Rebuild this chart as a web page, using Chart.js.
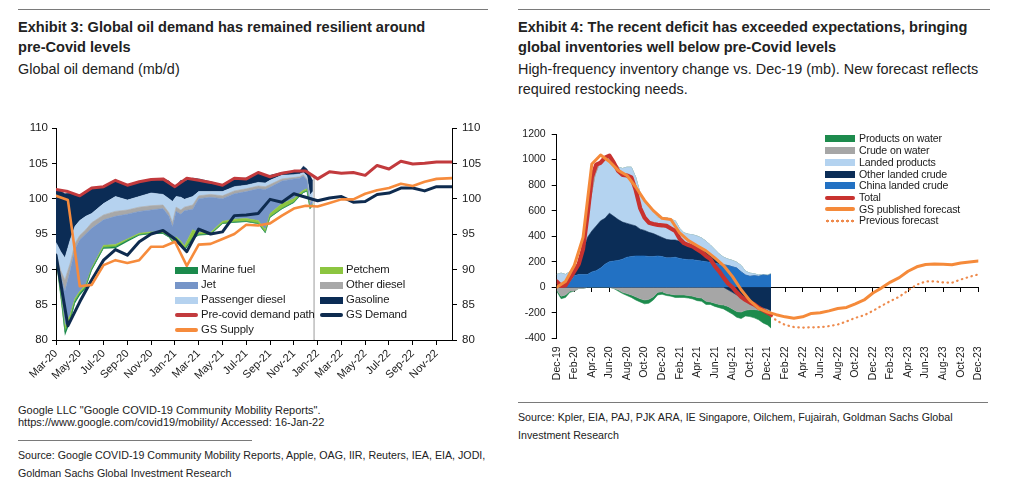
<!DOCTYPE html>
<html>
<head>
<meta charset="utf-8">
<script src="https://cdn.jsdelivr.net/npm/chart.js@4.4.1/dist/chart.umd.min.js"></script>
<style>
  body { margin: 0; width: 1010px; height: 489px; position: relative; background: #fff; overflow: hidden;
         font-family: "Liberation Sans Narrow", "Arial Narrow", "Liberation Sans", Arial, sans-serif; color: #222; }
  .abs { position: absolute; white-space: nowrap; transform-origin: 0 0; }
  .rule { position: absolute; height: 1px; background: #7a7a7a; }
  .title { font-weight: bold; font-size: 15.5px; line-height: 20px; transform: scaleX(0.94); }
  .sub { font-size: 15px; line-height: 20px; transform: scaleX(0.96); }
  .note { font-size: 11px; line-height: 12px; }
  .src { font-size: 11px; line-height: 18px; transform: scaleX(0.97); }
  .lg { position: absolute; font-family: "Liberation Sans", Arial, sans-serif; color: #1a1a1a; white-space: nowrap; }
  .sw { position: absolute; }
  canvas { position: absolute; }
</style>
</head>
<body>

<div class="rule" style="left:18px;top:9px;width:470px"></div>
<div class="rule" style="left:518px;top:9px;width:472px"></div>

<div class="abs title" style="left:18px;top:17px">Exhibit 3: Global oil demand has remained resilient around<br>pre-Covid levels</div>
<div class="abs sub" style="left:18px;top:59px">Global oil demand (mb/d)</div>

<div class="abs title" style="left:518px;top:17px">Exhibit 4: The recent deficit has exceeded expectations, bringing<br>global inventories well below pre-Covid levels</div>
<div class="abs sub" style="left:518px;top:59px">High-frequency inventory change vs. Dec-19 (mb). New forecast reflects<br>required restocking needs.</div>

<canvas id="demand" width="500" height="290" style="left:0;top:110px"></canvas>
<canvas id="stocks" width="505" height="280" style="left:505px;top:120px"></canvas>

<!-- Exhibit 3 legend -->
<div id="legL"></div>
<!-- Exhibit 4 legend -->
<div id="legR"></div>

<div class="abs note" style="left:18px;top:404px">Google LLC "Google COVID-19 Community Mobility Reports".<br>https://www.google.com/covid19/mobility/ Accessed: 16-Jan-22</div>
<div class="rule" style="left:18px;top:440px;width:234px"></div>
<div class="abs src" style="left:18px;top:446px">Source: Google COVID-19 Community Mobility Reports, Apple, OAG, IIR, Reuters, IEA, EIA, JODI,<br>Goldman Sachs Global Investment Research</div>

<div class="rule" style="left:518px;top:402px;width:470px"></div>
<div class="abs src" style="left:518px;top:408px">Source: Kpler, EIA, PAJ, PJK ARA, IE Singapore, Oilchem, Fujairah, Goldman Sachs Global<br>Investment Research</div>

<script>
// ---------- Exhibit 3: global oil demand (mb/d) ----------
const monthsL = ['Mar-20','Apr-20','May-20','Jun-20','Jul-20','Aug-20','Sep-20','Oct-20','Nov-20','Dec-20',
  'Jan-21','Feb-21','Mar-21','Apr-21','May-21','Jun-21','Jul-21','Aug-21','Sep-21','Oct-21','Nov-21','Dec-21',
  'Jan-22','Feb-22','Mar-22','Apr-22','May-22','Jun-22','Jul-22','Aug-22','Sep-22','Oct-22','Nov-22','Dec-22'];

// month index (0 = Mar-20) of each monthly point
const lineX = [0,1,2,3,4,5,6,7,8,9,10,11,12,13,14,15,16,17,18,19,20,21,22,23,24,25,26,27,28,29,30,31,32,33.3];
const preCovid = [101.3,101.0,100.4,101.5,101.7,102.6,101.9,102.4,102.7,102.8,101.7,102.9,102.6,102.3,101.9,102.9,
  102.8,103.7,103.1,103.6,103.9,103.9,102.8,103.8,103.6,103.7,103.3,104.7,104.2,105.3,104.9,105.0,105.2,105.2];
const gsDemand = [92.0,82.0,85.4,88.5,91.3,92.8,92.0,93.9,95.0,95.5,94.3,92.5,95.7,95.0,95.3,97.6,
  97.7,97.9,99.9,99.5,100.7,100.2,99.7,100.1,100.3,99.5,99.6,100.6,100.8,101.5,101.5,101.1,101.7,101.7];
const gsSupply = [100.4,99.8,87.6,87.8,90.6,91.3,90.9,91.3,93.2,93.2,93.9,90.5,93.5,93.6,94.3,95.0,
  96.3,96.2,96.5,97.6,98.6,99.0,98.9,99.4,99.9,99.9,100.7,101.2,101.5,102.1,101.8,102.4,102.8,102.9];

// demand-loss stack (high frequency), month index
const stackX = [0,0.4,0.75,1.2,1.6,2,2.5,3,4,5,6,7,8,9,9.5,9.8,10.1,10.5,10.8,11.5,12,13,14,15,16,17,17.6,18,19,20,20.5,20.8,21.1,21.35,21.6];
const stackBase = [91.5,86.0,80.6,82.6,85.2,86.3,87.3,89.8,92.9,93.0,93.9,94.8,95.0,95.0,94.5,93.8,94.3,93.5,92.6,94.3,
  94.8,94.9,96.4,96.6,96.7,96.4,95.1,97.3,98.5,99.4,100.3,100.8,101.0,98.5,99.0];
const marineFuel = [0.1,0.2,0.6,0.4,0.3,0.3,0.2,0.2,0.2,0.2,0.2,0.1,0.1,0.1,0.1,0.1,0.1,0.2,0.2,0.2,
  0.1,0.1,0.1,0.1,0.1,0.1,0.1,0.1,0.1,0.1,0.1,0.1,0.1,0.1,0.1];
const petchem = [0.1,0.3,0.7,0.6,0.4,0.3,0.3,0.2,0.3,0.3,0.2,0.2,0.2,0.2,0.2,0.2,0.2,0.3,0.5,1.1,
  0.3,0.2,0.3,0.4,0.4,0.4,0.4,0.5,0.7,0.5,0.4,0.3,0.3,0.2,0.2];
const jet = [0.4,2.5,5.0,6.3,7.0,7.3,7.2,5.6,3.6,4.0,3.5,3.1,3.1,3.3,2.7,1.9,3.6,3.8,5.0,2.9,
  4.8,5.0,3.2,3.6,3.8,4.5,5.7,3.7,3.2,2.8,2.1,2.0,1.2,0.5,0.5];
const otherDiesel = [0.2,0.8,1.6,1.0,0.8,0.6,0.6,0.8,0.7,0.7,0.6,0.6,0.6,0.5,0.5,0.6,0.6,0.6,0.5,0.6,
  0.4,0.4,0.4,0.4,0.4,0.4,0.4,0.4,0.3,0.2,0.2,0.2,0.2,0.3,0.3];
const passengerDiesel = [1.5,2.7,3.1,3.3,2.4,2.1,1.9,1.3,1.6,2.1,1.4,1.5,1.8,1.5,2.0,3.0,1.5,1.8,1.1,1.2,
  0.6,0.4,0.6,0.6,0.5,0.5,0.5,0.6,0.5,0.4,0.4,0.3,0.4,0.9,0.9];
const gasoline = [7.5,8.6,9.1,6.6,4.4,3.5,3.4,3.5,2.4,2.2,2.1,2.1,1.9,2.2,2.5,2.4,1.5,2.4,2.6,2.6,
  1.8,1.4,0.9,1.1,1.0,1.3,1.0,0.7,0.4,0.5,0.4,0.9,1.0,2.8,1.5];
const cutoffX = [21.7, 21.7];
const cutoffY = [80, 103.3];

// ---------- Exhibit 4: inventory change vs Dec-19 (mb) ----------
const monthsR = ['Dec-19','Jan-20','Feb-20','Mar-20','Apr-20','May-20','Jun-20','Jul-20','Aug-20','Sep-20','Oct-20','Nov-20','Dec-20',
  'Jan-21','Feb-21','Mar-21','Apr-21','May-21','Jun-21','Jul-21','Aug-21','Sep-21','Oct-21','Nov-21','Dec-21',
  'Jan-22','Feb-22','Mar-22','Apr-22','May-22','Jun-22','Jul-22','Aug-22','Sep-22','Oct-22','Nov-22','Dec-22',
  'Jan-23','Feb-23','Mar-23','Apr-23','May-23','Jun-23','Jul-23','Aug-23','Sep-23','Oct-23','Nov-23','Dec-23'];

const invX = [0,0.5,1,1.5,2,2.5,3,3.5,4,4.5,5,5.5,6,6.5,7,7.5,8,8.5,9,9.5,10,10.5,11,11.5,12,12.5,13,13.5,14,14.5,
  15,15.5,16,16.5,17,17.5,18,18.5,19,19.5,20,20.5,21,21.5,22,22.5,23,23.5,24,24.4];
const chinaCrude = [30,20,30,40,90,100,100,100,120,130,150,180,200,205,210,220,235,240,245,245,245,240,240,245,240,230,230,235,225,220,
  215,215,210,205,200,195,190,180,175,170,160,150,120,95,85,90,85,95,90,100];
const otherCrudeUp = [0,0,10,20,30,70,180,290,320,350,370,360,380,350,320,290,265,250,235,210,200,190,180,160,150,145,140,135,135,125,
  120,110,100,90,80,55,30,10,0,0,0,0,0,0,0,0,0,0,0,0];
const landedProducts = [70,90,60,60,40,20,30,140,260,400,450,470,450,430,410,420,440,450,380,280,230,200,175,140,150,170,160,150,100,80,
  80,85,90,90,80,80,75,70,60,50,50,45,50,30,25,15,10,5,5,5];
const crudeWaterUp = [0,0,0,0,0,0,0,40,160,70,10,0,0,0,0,0,0,0,0,0,0,0,0,0,0,0,0,0,0,0,
  0,0,0,0,0,0,0,0,0,0,0,0,0,0,0,0,0,0,0,0];
const productsWaterUp = [0,0,0,0,0,0,0,0,20,20,0,0,0,0,0,0,0,0,0,0,0,0,0,0,0,0,0,0,0,0,
  0,0,0,0,0,0,0,0,0,0,0,0,0,0,0,0,0,0,0,0];
const otherCrudeDown = [0,0,0,0,0,0,0,0,0,0,0,0,0,0,0,0,0,0,0,0,0,0,0,0,0,0,0,0,0,0,
  0,0,0,0,0,0,0,0,0,-20,-40,-60,-80,-100,-115,-130,-150,-160,-170,-185];
const crudeWaterDown = [-20,-70,-60,-30,-30,-10,-10,0,0,0,0,0,0,-10,-20,-40,-50,-60,-75,-90,-100,-95,-75,-40,-35,-50,-55,-60,-60,-60,
  -65,-70,-80,-85,-110,-115,-125,-135,-140,-130,-130,-130,-115,-80,-60,-45,-30,-20,-10,-5];
const productsWaterDown = [-10,-20,-20,-10,0,0,0,0,0,0,0,0,0,0,-10,-10,-15,-20,-25,-25,-30,-30,-25,-20,-20,-15,-15,-20,-20,-20,
  -20,-22,-25,-25,-25,-20,-25,-25,-30,-40,-40,-45,-50,-45,-55,-65,-75,-100,-115,-130];
const total = [45,10,15,70,125,180,300,560,860,960,975,1015,1030,975,910,880,875,860,760,620,545,505,495,488,485,480,460,440,380,345,
  330,318,295,275,245,220,165,125,75,30,0,-40,-75,-100,-120,-135,-160,-180,-200,-215];

const fcX = [0,1,2,3,4,5,6,7,8,9,10,11,12,13,14,15,16,17,18,19,20,21,22,23,24,25,26,27,28,29,30,31,32,33,34,35,36,37,38,39,40,41,42,43,44,45,46,47,48];
const gsForecast = [0,45,170,390,965,1035,985,915,875,785,680,600,540,530,425,365,325,285,230,170,85,-20,-105,-165,-195,
  -215,-232,-243,-232,-205,-200,-185,-167,-158,-130,-100,-45,-5,40,75,125,160,178,182,180,176,190,198,206];
const prevX = [24,25,26,27,28,29,30,31,32,33,34,35,36,37,38,39,40,41,42,43,44,45,46,47,48];
const prevForecast = [-200,-260,-295,-312,-316,-314,-313,-305,-292,-268,-240,-220,-185,-145,-108,-75,-25,20,45,46,38,35,60,82,100];

// ---------- helpers ----------
const pts = (xs, ys) => xs.map((x, i) => ({ x: x, y: ys[i] }));
const even = arr => arr.map((_, i) => i).filter(i => i % 2 === 0);

Chart.defaults.font.family = '"Liberation Sans", Arial, sans-serif';
Chart.defaults.color = '#1a1a1a';

const area = (label, xs, ys, color, axis, stack) => ({
  label: label, data: pts(xs, ys), yAxisID: axis, stack: stack,
  fill: '-1', backgroundColor: color, borderColor: color, borderWidth: 0.6,
  pointRadius: 0, tension: 0
});
const line = (label, xs, ys, color, width, axis, stack) => ({
  label: label, data: pts(xs, ys), yAxisID: axis, stack: stack,
  fill: false, borderColor: color, backgroundColor: color, borderWidth: width,
  pointRadius: 0, tension: 0, borderJoinStyle: 'round', borderCapStyle: 'round'
});

// ---------- Exhibit 3 chart ----------
new Chart(document.getElementById('demand'), {
  type: 'line',
  data: {
    datasets: [
      line('GS Supply', lineX, gsSupply, '#f68b3c', 2.6, 'y'),
      line('GS Demand', lineX, gsDemand, '#0e2b4f', 3, 'y'),
      line('Pre-covid demand path', lineX, preCovid, '#c23a3d', 3, 'y'),
      line('cutoff', cutoffX, cutoffY, '#9c9c9c', 1, 'y'),
      { label: 'base', data: pts(stackX, stackBase), yAxisID: 'yr', fill: false,
        borderColor: 'rgba(0,0,0,0)', borderWidth: 0, pointRadius: 0 },
      area('Marine fuel', stackX, marineFuel, '#1b8a4c', 'yr'),
      area('Petchem', stackX, petchem, '#8cc540', 'yr'),
      area('Jet', stackX, jet, '#7695c8', 'yr'),
      area('Other diesel', stackX, otherDiesel, '#a8a8a8', 'yr'),
      area('Passenger diesel', stackX, passengerDiesel, '#b5d2ef', 'yr'),
      area('Gasoline', stackX, gasoline, '#0b2c55', 'yr')
    ]
  },
  options: {
    responsive: false, animation: false,
    layout: { padding: { top: 18, left: 0, right: 0, bottom: 0 } },
    plugins: { legend: { display: false }, tooltip: { enabled: false } },
    scales: {
      x: {
        type: 'linear', min: 0, max: 33.3,
        afterBuildTicks: s => { s.ticks = even(monthsL).map(v => ({ value: v })); },
        afterFit: s => { s.height = 60; },
        ticks: { autoSkip: false, minRotation: 45, maxRotation: 45, padding: 2,
                 font: { size: 11 }, callback: v => monthsL[v] },
        grid: { drawOnChartArea: false, tickLength: 5, color: '#000' },
        border: { color: '#000', width: 1 }
      },
      y: {
        position: 'left', min: 80, max: 110,
        afterFit: s => { s.width = 56; },
        ticks: { stepSize: 5, padding: 4, font: { size: 11.5 } },
        grid: { drawOnChartArea: false, tickLength: 4, color: '#000' },
        border: { color: '#000', width: 1 }
      },
      yr: {
        position: 'right', min: 80, max: 110, stacked: true,
        afterFit: s => { s.width = 48; },
        ticks: { stepSize: 5, padding: 5, font: { size: 11.5 } },
        grid: { drawOnChartArea: false, tickLength: 5, color: '#000' },
        border: { color: '#000', width: 1 }
      }
    }
  }
});

// ---------- Exhibit 4 chart ----------
new Chart(document.getElementById('stocks'), {
  type: 'line',
  data: {
    datasets: [
      line('GS published forecast', fcX, gsForecast, '#f58a3a', 3, 'y', 'fc'),
      line('Total', invX, total, '#c8322f', 4.2, 'y', 'tot'),
      Object.assign(line('Previous forecast', prevX, prevForecast, '#ee8a4c', 2.2, 'y', 'prev'),
                    { borderDash: [0.5, 4.5] }),
      Object.assign(area('China landed crude', invX, chinaCrude, '#2271c3', 'y', 'up'), { fill: 'origin' }),
      area('Other landed crude', invX, otherCrudeUp, '#0b2d57', 'y', 'up'),
      area('Landed products', invX, landedProducts, '#b4d3f0', 'y', 'up'),
      area('Crude on water', invX, crudeWaterUp, '#a6a6a6', 'y', 'up'),
      area('Products on water', invX, productsWaterUp, '#1d8b4d', 'y', 'up'),
      Object.assign(area('Other landed crude', invX, otherCrudeDown, '#0b2d57', 'y', 'down'), { fill: 'origin' }),
      area('Crude on water', invX, crudeWaterDown, '#a6a6a6', 'y', 'down'),
      area('Products on water', invX, productsWaterDown, '#1d8b4d', 'y', 'down')
    ]
  },
  options: {
    responsive: false, animation: false,
    layout: { padding: { top: 14, left: 0, right: 31.7, bottom: 0 } },
    plugins: { legend: { display: false }, tooltip: { enabled: false } },
    scales: {
      x: {
        type: 'linear', min: 0, max: 48,
        afterBuildTicks: s => { s.ticks = even(monthsR).map(v => ({ value: v })); },
        afterFit: s => { s.height = 61.7; },
        ticks: { autoSkip: false, minRotation: 90, maxRotation: 90, padding: 0,
                 font: { size: 10.5 }, callback: v => monthsR[v] },
        grid: { display: false },
        border: { display: false }
      },
      x0: {
        axis: 'x', type: 'linear', min: 0, max: 48, position: { y: 0 },
        afterBuildTicks: s => { s.ticks = even(monthsR).map(v => ({ value: v })); },
        ticks: { display: false },
        grid: { drawOnChartArea: false, tickLength: 4, color: '#000' },
        border: { color: '#000', width: 1 }
      },
      y: {
        position: 'left', min: -400, max: 1200, stacked: true,
        afterFit: s => { s.width = 51.7; },
        ticks: { stepSize: 200, padding: 6, font: { size: 10.5 }, callback: v => String(v) },
        grid: { drawOnChartArea: false, tickLength: 5, color: '#000' },
        border: { color: '#000', width: 1 }
      }
    }
  }
});

// ---------- legends (HTML text) ----------
const legendL = [
  ['Marine fuel', 'box', '#1b8a4c', 175, 270], ['Petchem', 'box', '#8cc540', 320, 270],
  ['Jet', 'box', '#7695c8', 175, 285], ['Other diesel', 'box', '#a8a8a8', 320, 285],
  ['Passenger diesel', 'box', '#b5d2ef', 175, 300], ['Gasoline', 'box', '#0b2c55', 320, 300],
  ['Pre-covid demand path', 'line', '#c23a3d', 175, 315], ['GS Demand', 'line', '#0e2b4f', 320, 315],
  ['GS Supply', 'line', '#f68b3c', 175, 329.5]
];
const legendR = [
  ['Products on water', 'box', '#1d8b4d', 138.5], ['Crude on water', 'box', '#a6a6a6', 150.5],
  ['Landed products', 'box', '#b4d3f0', 162.5], ['Other landed crude', 'box', '#0b2d57', 174],
  ['China landed crude', 'box', '#2271c3', 185.5], ['Total', 'line', '#c8322f', 197.5],
  ['GS published forecast', 'line', '#f58a3a', 209], ['Previous forecast', 'dot', '#ee8a4c', 220.5]
];
function swatch(kind, color, x, y, w) {
  const d = document.createElement('div');
  d.className = 'sw';
  if (kind === 'box') {
    Object.assign(d.style, { left: x + 'px', top: (y - 3.5) + 'px', width: w + 'px', height: '7px', background: color });
  } else if (kind === 'line') {
    Object.assign(d.style, { left: x + 'px', top: (y - 2) + 'px', width: w + 'px', height: '4px', background: color, borderRadius: '2px' });
  } else {
    Object.assign(d.style, { left: x + 'px', top: (y - 2) + 'px', width: w + 'px', height: '4px',
      background: 'radial-gradient(circle, ' + color + ' 1.2px, rgba(0,0,0,0) 1.7px) 0 0 / 5px 4px repeat-x' });
  }
  return d;
}
function text(t, x, y, size) {
  const d = document.createElement('div');
  d.className = 'lg';
  d.textContent = t;
  Object.assign(d.style, { left: x + 'px', top: (y - size * 0.6) + 'px', fontSize: size + 'px',
    lineHeight: (size * 1.2) + 'px', letterSpacing: '-0.15px' });
  return d;
}
const legL = document.getElementById('legL');
legendL.forEach(([t, k, c, x, y]) => { legL.appendChild(swatch(k, c, x, y, 23)); legL.appendChild(text(t, x + 26, y, 11.3)); });
const legR = document.getElementById('legR');
legendR.forEach(([t, k, c, y]) => { legR.appendChild(swatch(k, c, 825, y, 30)); legR.appendChild(text(t, 859, y, 10.6)); });
</script>
</body>
</html>
